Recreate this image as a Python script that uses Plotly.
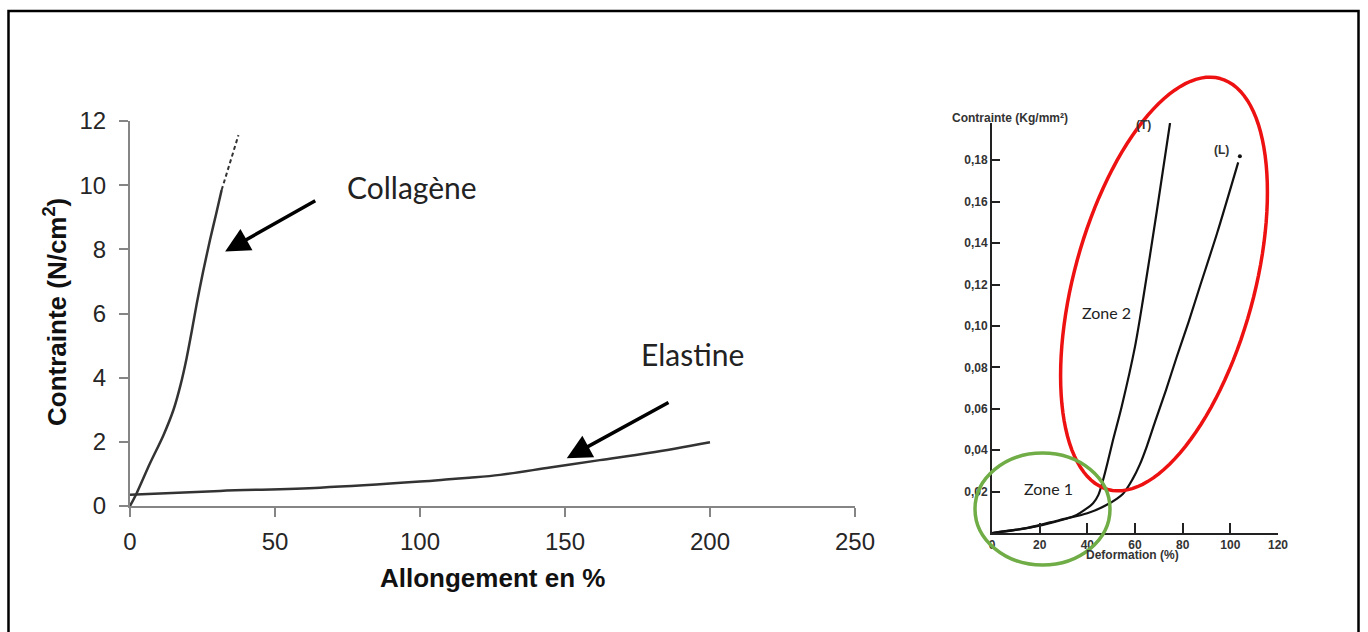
import numpy as np
import plotly.graph_objects as go

W, H = 1368, 632

# left chart: stress-strain of collagen and elastin fibres
collagene_x = [0, 2.3, 6.9, 11.5, 15, 17.5, 19.5, 21.2, 23, 25.2, 27.6, 29.7, 31.6]
collagene_y = [0, 0.4, 1.33, 2.2, 3.0, 3.8, 4.6, 5.4, 6.3, 7.3, 8.3, 9.1, 9.85]
collagene_ext_x = [31.6, 37.4]
collagene_ext_y = [9.85, 11.56]
elastine_x = [0, 31, 65.5, 100, 110, 117, 127.6, 144.8, 162, 179.3, 200]
elastine_y = [0.35, 0.47, 0.57, 0.76, 0.83, 0.88, 0.97, 1.2, 1.43, 1.66, 1.99]
left_xticks = [0, 50, 100, 150, 200, 250]
left_yticks = [0, 2, 4, 6, 8, 10, 12]

# right chart: transverse (T) and longitudinal (L) curves
t_x = [0, 10, 21.4, 30, 35.5, 42.4, 44.6, 46.6, 48.7, 50.8, 54.4, 60, 63.4, 69.1, 74.7]
t_y = [0, 0.0015, 0.0039, 0.0065, 0.0087, 0.0144, 0.0183, 0.0256, 0.035, 0.045,
       0.061, 0.090, 0.113, 0.155, 0.198]
l_x = [0, 15, 28.4, 40, 48, 55, 59, 62, 65, 68.5, 73, 77.5, 82.5, 87.5, 94.5, 103.3]
l_y = [0, 0.0025, 0.0063, 0.0095, 0.0135, 0.019, 0.026, 0.033, 0.042, 0.054, 0.069,
       0.085, 0.102, 0.12, 0.145, 0.179]
t_end = (75, 0.201)
l_end = (104, 0.182)
right_xticks = [0, 20, 40, 60, 80, 100, 120]
right_yticks = [0.02, 0.04, 0.06, 0.08, 0.10, 0.12, 0.14, 0.16, 0.18]
right_yticktext = ["0,02", "0,04", "0,06", "0,08", "0,10", "0,12", "0,14", "0,16", "0,18"]


def px(x):
    return x / W


def py(y):
    return 1 - y / H


fig = go.Figure()

dark = "#333333"
fig.add_trace(go.Scatter(x=collagene_x, y=collagene_y, mode="lines",
                         line=dict(color=dark, width=2.5, shape="spline", smoothing=0.8),
                         xaxis="x", yaxis="y"))
fig.add_trace(go.Scatter(x=collagene_ext_x, y=collagene_ext_y, mode="lines",
                         line=dict(color=dark, width=2, dash="4px,3px"),
                         xaxis="x", yaxis="y"))
fig.add_trace(go.Scatter(x=elastine_x, y=elastine_y, mode="lines",
                         line=dict(color=dark, width=2.5, shape="spline"),
                         xaxis="x", yaxis="y"))

fig.add_trace(go.Scatter(x=t_x, y=t_y, mode="lines",
                         line=dict(color="#111111", width=2.2, shape="spline", smoothing=0.8),
                         xaxis="x2", yaxis="y2"))
fig.add_trace(go.Scatter(x=l_x, y=l_y, mode="lines",
                         line=dict(color="#111111", width=2.2, shape="spline", smoothing=0.8),
                         xaxis="x2", yaxis="y2"))
fig.add_trace(go.Scatter(x=[t_end[0], l_end[0]], y=[t_end[1], l_end[1]], mode="markers",
                         marker=dict(color="#111111", size=4),
                         xaxis="x2", yaxis="y2"))

axis_grey = "#858585"
fig.update_layout(
    template="none",
    width=W, height=H,
    margin=dict(l=0, r=0, t=0, b=0, pad=0),
    paper_bgcolor="white", plot_bgcolor="white",
    showlegend=False,
    xaxis=dict(domain=[px(130), px(855)], range=[0, 250], tickvals=left_xticks,
               showline=True, linecolor=axis_grey, linewidth=2, ticks="outside",
               ticklen=9, tickwidth=2, tickcolor=axis_grey, showgrid=False, zeroline=False,
               tickfont=dict(family="Liberation Sans, Arial", size=24, color="#262626"),
               ticklabelstandoff=4, anchor="y", automargin=False),
    yaxis=dict(domain=[py(506), py(121)], range=[0, 12], tickvals=left_yticks,
               showline=True, linecolor=axis_grey, linewidth=2, ticks="outside",
               ticklen=9, tickwidth=2, tickcolor=axis_grey, showgrid=False, zeroline=False,
               tickfont=dict(family="Liberation Sans, Arial", size=24, color="#262626"),
               ticklabelstandoff=8, anchor="x", automargin=False),
    xaxis2=dict(domain=[px(992), px(1278)], range=[0, 120], tickvals=right_xticks,
                showline=True, linecolor="#222222", linewidth=2, ticks="inside",
                ticklen=10, tickwidth=2, tickcolor="#222222", showgrid=False, zeroline=False,
                tickfont=dict(family="Liberation Sans, Arial", size=12, color="#333333",
                              weight="bold"),
                anchor="y2", automargin=False),
    yaxis2=dict(domain=[py(533), py(123)], range=[0, 0.198], tickvals=right_yticks,
                ticktext=right_yticktext,
                showline=True, linecolor="#222222", linewidth=2, ticks="inside",
                ticklen=8, tickwidth=1.5, tickcolor="#222222", showgrid=False, zeroline=False,
                tickfont=dict(family="Liberation Sans, Arial", size=12, color="#333333",
                              weight="bold"),
                anchor="x2", automargin=False),
)

bold_arial = dict(family="Liberation Sans, Arial", color="#111111", weight="bold")
small_bold = dict(size=12, family="Liberation Sans, Arial", color="#333333", weight="bold")
calibri_like = dict(family="Lato, Carlito, sans-serif", color="#222222")
annotations = [
    dict(text="Contrainte (N/cm<sup>2</sup>)", x=px(55), y=py(312), xref="paper", yref="paper",
         textangle=-90, font=dict(size=26, **bold_arial)),
    dict(text="Allongement en %", x=px(493), y=py(578), xref="paper", yref="paper",
         font=dict(size=26, **bold_arial)),
    dict(text="Collagène", x=97.2, y=9.94, xref="x", yref="y", font=dict(size=30, **calibri_like)),
    dict(text="Elastine", x=193.8, y=4.74, xref="x", yref="y", font=dict(size=30, **calibri_like)),
    # right chart labels
    dict(text="Contrainte (Kg/mm²)", x=px(1010), y=py(118), xref="paper", yref="paper",
         font=small_bold),
    dict(text="Deformation (%)", x=px(1132), y=py(555), xref="paper", yref="paper",
         font=small_bold),
    dict(text="(T)", x=63.4, y=0.197, xref="x2", yref="y2", font=small_bold),
    dict(text="(L)", x=96.5, y=0.185, xref="x2", yref="y2", font=small_bold),
    dict(text="Zone 2", x=48.2, y=0.1067, xref="x2", yref="y2", font=dict(size=16, **calibri_like)),
    dict(text="Zone 1", x=23.5, y=0.0217, xref="x2", yref="y2", font=dict(size=16, **calibri_like)),
]
for ann in annotations:
    ann.update(showarrow=False, xanchor="center", yanchor="middle")

# arrows pointing at the curves
annotations += [
    dict(x=32.8, y=7.93, ax=64.4, ay=9.54, xref="x", yref="y", axref="x", ayref="y",
         text="", showarrow=True, arrowhead=2, arrowsize=1.4, arrowwidth=3.5, arrowcolor="black"),
    dict(x=150.6, y=1.49, ax=186.2, ay=3.25, xref="x", yref="y", axref="x", ayref="y",
         text="", showarrow=True, arrowhead=2, arrowsize=1.4, arrowwidth=3.5, arrowcolor="black"),
]
fig.update_layout(annotations=annotations)

# tilted red ellipse around zone 2 (pixel geometry)
cx, cy, a, b, th = 1164, 284, 213, 90, np.radians(15.3)
t = np.linspace(0, 2 * np.pi, 121)
ex = cx + a * np.cos(t) * np.sin(th) + b * np.sin(t) * np.cos(th)
ey = cy - a * np.cos(t) * np.cos(th) + b * np.sin(t) * np.sin(th)
ellipse = "M " + " L ".join(f"{px(u):.5f},{py(v):.5f}" for u, v in zip(ex, ey)) + " Z"

# page frame: left, top and right sides, the bottom runs off the picture
frame = (f"M {px(8.5):.5f},0 L {px(8.5):.5f},{py(11):.5f} "
         f"L {px(1358.5):.5f},{py(11):.5f} L {px(1358.5):.5f},0")

shapes = [
    dict(type="path", xref="paper", yref="paper", path=frame,
         line=dict(color="black", width=2.5)),
    dict(type="path", xref="paper", yref="paper", path=ellipse,
         line=dict(color="#ee1111", width=3.5)),
    dict(type="circle", xref="paper", yref="paper", x0=px(975), x1=px(1110),
         y0=py(565), y1=py(453), line=dict(color="#70ad47", width=3.5)),
]
fig.update_layout(shapes=shapes)

page_fix = ("document.documentElement.style.margin='0';"
            "document.body.style.margin='0';"
            "document.documentElement.style.overflow='hidden';"
            "document.body.style.overflow='hidden';")
fig.write_html("out.html", config={"displayModeBar": False}, post_script=page_fix)
